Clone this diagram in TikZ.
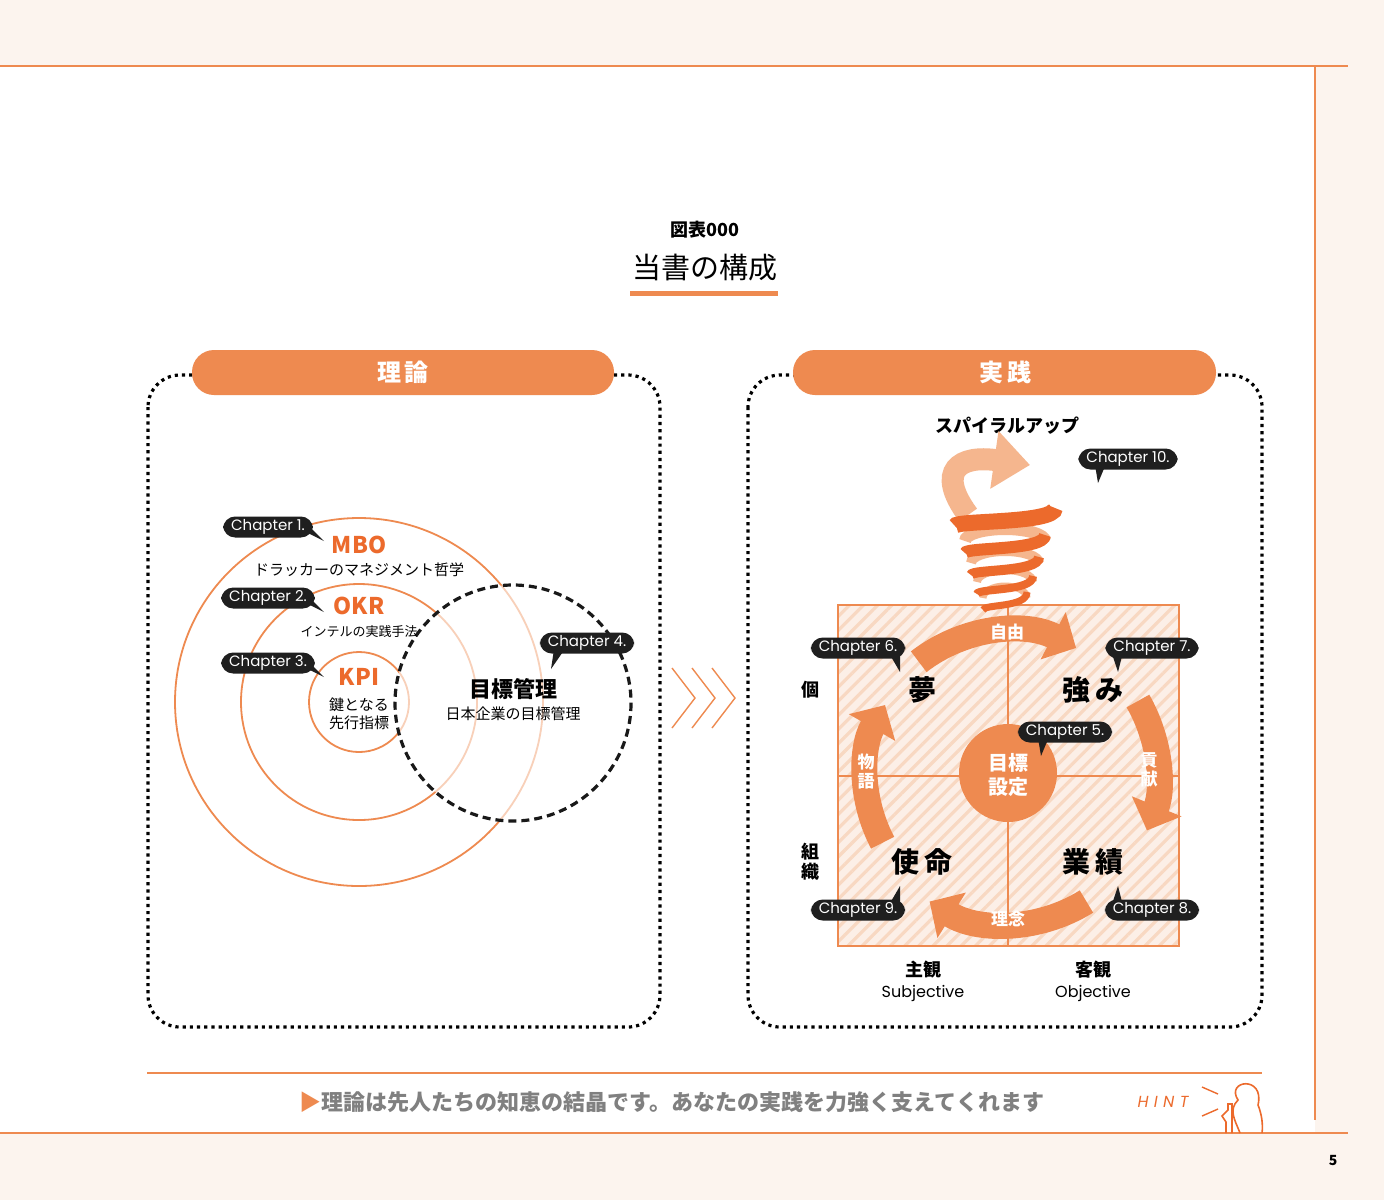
\documentclass[tikz,border=0pt]{standalone}
\usepackage{fontspec}
\setmainfont{Noto Sans CJK JP}
\newfontfamily\lat{Poppins}
\usetikzlibrary{arrows.meta,patterns.meta,calc}
\definecolor{org}{HTML}{EE8A50}
\definecolor{dorg}{HTML}{EC6A2C}
\definecolor{lorg}{HTML}{F5B68E}
\definecolor{cream}{HTML}{FCF4EE}
\definecolor{hatchc}{HTML}{F8D8C2}
\definecolor{gtxt}{HTML}{808080}
\begin{document}
\begin{tikzpicture}[x=0.5pt,y=-0.5pt,
  pill/.style={fill=org,rounded corners=11pt,draw=none},
  panel/.style={draw=black,line width=1.6pt,dotted,rounded corners=16pt},
  bub/.style={fill=black!88,text=white,rounded corners=6pt,inner xsep=4pt,inner ysep=1.5pt,font=\lat\fontsize{7.5}{9}\selectfont},
  big/.style={font=\bfseries\fontsize{14}{16}\selectfont},
  arc/.style={line width=13pt,org,-{Triangle[length=13pt,width=26pt]}},
  arcl/.style={text=white,font=\bfseries\fontsize{8.5}{9}\selectfont},
  ring/.style={org,line width=0.9pt}]
\useasboundingbox (0,0) rectangle (1384,1200);
% background
\fill[cream] (0,0) rectangle (1384,1200);
\fill[white] (0,66) rectangle (1315,1133);
\draw[org,line width=0.6pt] (0,66) -- (1348,66);
\draw[org,line width=0.6pt] (1315,66) -- (1315,1120);
\draw[org,line width=0.6pt] (0,1133) -- (1348,1133);
\node[font=\bfseries\itshape\fontsize{7}{8}\selectfont] (pg) at (1333,1160) {5};
% title
\node[font=\bfseries\fontsize{9}{10}\selectfont] (t1) at (705,230) {図表000};
\node[font=\fontsize{14.5}{16}\selectfont] (t2) at (705,268) {当書の構成};
\draw[org,line width=2.5pt] (630,293) -- (778,293);
% panels
\draw[panel] (148,375) rectangle (660,1027);
\draw[panel] (748,375) rectangle (1262,1027);
\fill[pill] (192,350) rectangle (614,395);
\fill[pill] (793,350) rectangle (1216,395);
\node[text=white,font=\bfseries\fontsize{12}{14}\selectfont] (h1) at (403,372) {理\,論};
\node[text=white,font=\bfseries\fontsize{12}{14}\selectfont] (h2) at (1005,372) {実\,践};
% circles
\coordinate (c0) at (359,702);
\draw[ring] (c0) circle[radius=184];
\draw[ring] (c0) circle[radius=118];
\draw[ring] (c0) circle[radius=50];
\coordinate (cd) at (513,703);
\fill[white,opacity=0.6] (cd) circle[radius=118];
\draw[black!90,line width=1.6pt,dash pattern=on 4pt off 2.5pt] (cd) circle[radius=118];
\node[dorg,font=\bfseries\fontsize{11.5}{12}\selectfont] (mbo) at (359,545) {MBO};
\node[font=\fontsize{7.5}{9}\selectfont] (mbot) at (359,570) {ドラッカーのマネジメント哲学};
\node[dorg,font=\bfseries\fontsize{11.5}{12}\selectfont] (okr) at (359,606) {OKR};
\node[font=\fontsize{6.5}{8}\selectfont] (okrt) at (359,632) {インテルの実践手法};
\node[dorg,font=\bfseries\fontsize{11.5}{12}\selectfont] (kpi) at (359,677) {KPI};
\node[font=\fontsize{7.5}{9}\selectfont,align=center] (kpit) at (359,714) {鍵となる\\先行指標};
\node[font=\bfseries\fontsize{11}{12}\selectfont] (mk) at (513,689) {目標管理};
\node[font=\fontsize{7.5}{9}\selectfont] (mkt) at (513,714) {日本企業の目標管理};
% chevrons
\foreach \dx in {0,20,40}{\draw[org,line width=0.7pt] (672+\dx,668) -- (695+\dx,698) -- (672+\dx,728);}
% matrix
\fill[hatchc!40] (838,605) rectangle (1179,946);
\fill[pattern={Lines[angle=45,distance=5pt,line width=1.6pt]},pattern color=hatchc] (838,605) rectangle (1179,946);
\draw[org,line width=1pt] (838,605) rectangle (1179,946);
\draw[org,line width=1pt] (1008,605) -- (1008,946) (838,776) -- (1179,776);
\coordinate (cc) at (1008,776);
\fill[org] (1008,773) circle[radius=49];
\node[text=white,font=\bfseries\fontsize{10}{12}\selectfont,align=center] (goal) at (1008,775) {目標\\設定};
\draw[arc] (cc) ++(-128:145) arc[start angle=-128,end angle=-62,radius=145];
\draw[arc] (cc) ++(-30:150) arc[start angle=-30,end angle=22,radius=148];
\draw[arc] (cc) ++(58:148) arc[start angle=58,end angle=122,radius=148];
\draw[arc] (cc) ++(-208:142) arc[start angle=-208,end angle=-150,radius=142];
\node[arcl] (jy) at (1007,632) {自由};
\node[arcl,align=center,font=\bfseries\fontsize{8.5}{9.5}\selectfont] (kk) at (1149,770) {貢\\献};
\node[arcl] (rn) at (1008,919) {理念};
\node[arcl,align=center,font=\bfseries\fontsize{8.5}{9.5}\selectfont] (mg) at (866,772) {物\\語};
\node[big] (yume) at (922,690) {夢};
\node[big] (tsuyo) at (1093,690) {強\,み};
\node[big] (shi) at (922,862) {使\,命};
\node[big] (gyo) at (1093,862) {業\,績};
\node[font=\bfseries\fontsize{9}{10}\selectfont] (ko) at (810,690) {個};
\node[font=\bfseries\fontsize{9}{10}\selectfont,align=center] (so) at (810,862) {組\\織};
\node[font=\bfseries\fontsize{9}{10}\selectfont] (sk) at (923,970) {主観};
\node[font=\lat\fontsize{8}{9}\selectfont] (sk2) at (923,993) {Subjective};
\node[font=\bfseries\fontsize{9}{10}\selectfont] (kk2) at (1093,970) {客観};
\node[font=\lat\fontsize{8}{9}\selectfont] (kk3) at (1093,993) {Objective};
% spiral
\node[font=\bfseries\fontsize{9}{10}\selectfont] (sp) at (1007,426) {スパイラルアップ};
\foreach \yy/\rx/\w in {598/22/3.5, 582/28/4, 563/34/5, 541/40/6}{
  \draw[lorg,line width=\w pt] (1005-\rx,\yy) arc[start angle=180,end angle=360,x radius=\rx,y radius=12];
}
\draw[lorg,line width=11pt,-{Triangle[length=18pt,width=28pt]}] (968,515) .. controls (935,470) and (960,455) .. (1030,465);
\foreach \yy/\rx/\w in {598/22/3.5, 582/28/4, 563/34/5, 541/40/6, 514/50/8}{
  \draw[dorg,line width=\w pt] (1005+\rx,\yy-6) .. controls (1005+\rx,\yy+10) and (1005-\rx,\yy+6) .. (1005-\rx,\yy+12);
}
% bubbles
\newcommand\chap[5]{%
 \fill[black!88] ($(#2)+(#4)$) -- ($(#2)+(#5)$) -- ($(#2)+(#4)+(14,0)$) -- cycle;
 \node[bub] (#1) at (#2) {#3};}
\chap{ch1}{268,527}{Chapter 1.}{28,0}{56,14}
\chap{ch2}{268,598}{Chapter 2.}{28,0}{56,14}
\chap{ch3}{268,663}{Chapter 3.}{28,0}{56,14}
\chap{ch4}{587,643}{Chapter 4.}{-32,0}{-36,26}
\chap{ch10}{1128,459}{Chapter 10.}{-34,0}{-30,24}
\chap{ch6}{858,648}{Chapter 6.}{28,0}{42,24}
\chap{ch7}{1152,648}{Chapter 7.}{-42,0}{-34,24}
\chap{ch5}{1065,732}{Chapter 5.}{-28,0}{-24,24}
\chap{ch9}{858,910}{Chapter 9.}{28,0}{42,-24}
\chap{ch8}{1152,910}{Chapter 8.}{-42,0}{-34,-24}
% bottom hint
\draw[org,line width=0.6pt] (147,1073) -- (1262,1073);
\node[gtxt,font=\bfseries\fontsize{11}{13}\selectfont] (hint) at (672,1102) {\textcolor{org}{▶}理論は先人たちの知恵の結晶です。あなたの実践を力強く支えてくれます};
\node[dorg,font=\lat\itshape\fontsize{8}{9}\selectfont] (hn) at (1163,1102) {H\,\,I\,\,N\,\,T};
\draw[dorg,line width=0.7pt] (1202,1087) -- (1218,1094) (1202,1116) -- (1218,1109);
\draw[dorg,line width=0.8pt] (1240,1133) .. controls (1235,1120) and (1228,1110) .. (1238,1100) .. controls (1225,1080) and (1265,1075) .. (1258,1105) .. controls (1262,1115) and (1263,1125) .. (1262,1133);
\draw[dorg,line width=0.8pt] (1226,1133) -- (1226,1122) -- (1222,1116) -- (1228,1110) -- (1228,1104) -- (1232,1104) -- (1232,1133);
\end{tikzpicture}
\end{document}
